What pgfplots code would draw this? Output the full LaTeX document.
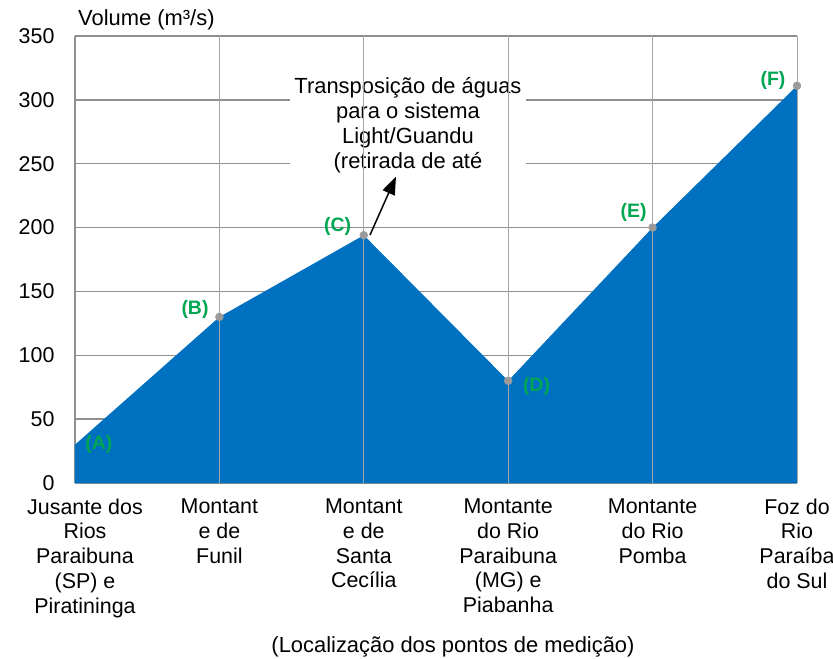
\documentclass[border=0pt]{standalone}
\usepackage{fontspec}
\setmainfont{Liberation Sans}[BoldFont={Liberation Sans Bold}]
\usepackage{pgfplots}
\pgfplotsset{compat=1.18}
\usetikzlibrary{arrows.meta}
\definecolor{areablue}{HTML}{0070C0}
\definecolor{lblgreen}{HTML}{00A651}
\definecolor{gridgray}{HTML}{8F8F8F}
\definecolor{vgray}{HTML}{A6A6A6}
\definecolor{dotgray}{HTML}{9A9A9A}
\begin{document}
\begin{tikzpicture}
\begin{axis}[name=ax, scale only axis, width=722bp, height=447bp,
  xmin=0, xmax=5, ymin=0, ymax=350,
  axis x line=bottom, axis y line=left,
  axis line style={gridgray, line width=1.2bp, -},
  ytick={0,50,...,350}, xtick={1,2,3,4,5},
  xticklabels={{Montant\\e de\\Funil},{Montant\\e de\\Santa\\Cecília},{Montante\\do Rio\\Paraibuna\\(MG) e\\Piabanha},{Montante\\do Rio\\Pomba},{Foz do\\Rio\\Paraíba\\do Sul}},
  extra x ticks={0},
  extra x tick labels={{Jusante dos\\Rios\\Paraibuna\\(SP) e\\Piratininga}},
  extra x tick style={xticklabel style={xshift=10bp}, grid=none},
  ymajorgrids, y grid style={gridgray, line width=1.5bp},
  major tick length=0,
  tick label style={font=\fontsize{21.5}{25}\selectfont},
  xticklabel style={align=center, anchor=north, yshift=-12bp},
  yticklabel style={anchor=east, xshift=-17bp},
  /pgf/number format/assume math mode=true,
  clip=false,
]
\addplot[fill=areablue, draw=none] coordinates {(0,30) (1,130) (2,194) (3,80) (4,200) (5,311)} \closedcycle;
\node[fill=white, align=center, font=\fontsize{22}{25}\selectfont, inner sep=4bp] at (axis cs:2.306,280) {Transposição de águas\\para o sistema\\Light/Guandu\\(retirada de até};
\pgfplotsinvokeforeach{1,...,5}{\draw[vgray, line width=1bp] (axis cs:#1,0) -- (axis cs:#1,350);}
\draw[black, line width=1.5bp, -{Triangle[length=18bp,width=13bp]}] (axis cs:2.043,194.2) -- (axis cs:2.223,240);
\addplot[only marks, mark=*, mark size=4bp, mark options={fill=dotgray, draw=dotgray}] coordinates {(1,130) (2,194) (3,80) (4,200) (5,311)};
\begin{scope}[every node/.style={font=\fontsize{19.5}{22}\selectfont, text=lblgreen}]
\node at (axis cs:0.166,30.5) {\textbf{(A)}};
\node at (axis cs:0.831,136) {\textbf{(B)}};
\node at (axis cs:1.818,201) {\textbf{(C)}};
\node at (axis cs:3.196,75.6) {\textbf{(D)}};
\node at (axis cs:3.868,212) {\textbf{(E)}};
\node at (axis cs:4.834,314.8) {\textbf{(F)}};
\end{scope}
\node[anchor=base west, font=\fontsize{22}{25}\selectfont, inner sep=0pt] at ([xshift=3bp, yshift=11bp]rel axis cs:0,1) {Volume (m³/s)};
\node[anchor=base, font=\fontsize{22}{25}\selectfont, inner sep=0pt] at ([xshift=17bp, yshift=-169bp]rel axis cs:0.5,0) {(Localização dos pontos de medição)};
\end{axis}
\pgfresetboundingbox
\path[use as bounding box] ([xshift=-75bp, yshift=-176bp]ax.south west) rectangle ([xshift=758bp, yshift=483bp]ax.south west);
\end{tikzpicture}
\end{document}
